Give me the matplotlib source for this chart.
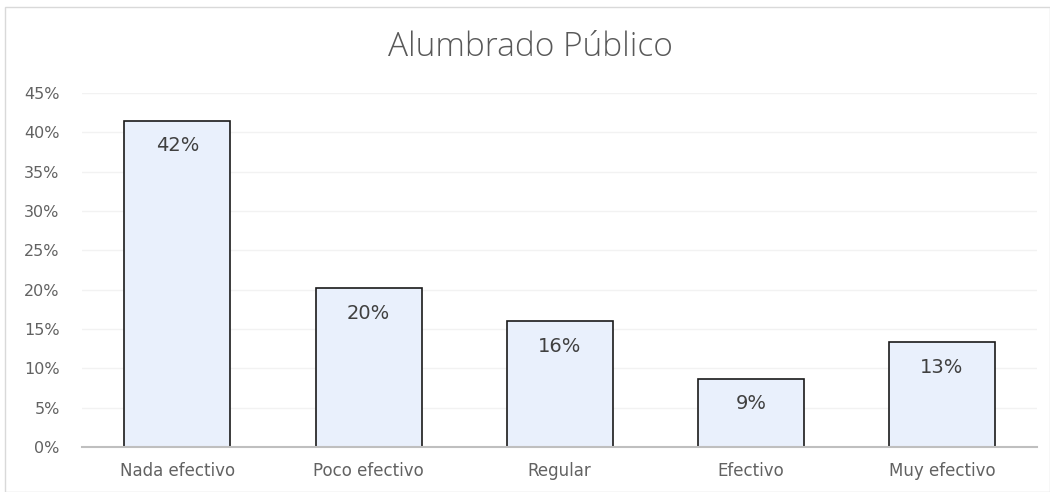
import matplotlib
matplotlib.use("Agg")
import matplotlib.pyplot as plt
from matplotlib.patches import Rectangle
from matplotlib.ticker import FuncFormatter

categories = ["Nada efectivo", "Poco efectivo", "Regular", "Efectivo", "Muy efectivo"]
values = [0.415, 0.202, 0.160, 0.087, 0.133]
labels = ["42%", "20%", "16%", "9%", "13%"]
yticks = [0, 0.05, 0.10, 0.15, 0.20, 0.25, 0.30, 0.35, 0.40, 0.45]
title = "Alumbrado Público"

plt.rcParams['font.family'] = ['DejaVu Sans']

fig = plt.figure(figsize=(10.5, 4.92), dpi=100)
ax = fig.add_axes([0.078, 0.0915, 0.91, 0.7195])

x = range(len(categories))
ax.bar(x, values, width=0.555, color="#E9F0FC", edgecolor="#1a1a1a", linewidth=1.2, zorder=3)
for xi, v, lab in zip(x, values, labels):
    ax.annotate(lab, (xi, v), xytext=(0, -18), textcoords="offset points",
                ha="center", va="center", fontsize=14, color="#404040", zorder=4)

ax.set_xlim(-0.5, len(categories) - 0.5)
ax.set_ylim(0, 0.45)
ax.set_yticks(yticks)
ax.yaxis.set_major_formatter(FuncFormatter(lambda v, p: f"{v*100:.0f}%"))
ax.set_xticks(list(x))
ax.set_xticklabels(categories)
ax.tick_params(axis="y", length=0, pad=16, labelsize=11.5, labelcolor="#626262")
ax.tick_params(axis="x", length=0, pad=11, labelsize=12, labelcolor="#626262")
ax.grid(axis="y", color="#F2F2F2", linewidth=1, zorder=0)
for s in ["top", "right", "left"]:
    ax.spines[s].set_visible(False)
ax.spines["bottom"].set_color("#BFBFBF")
ax.spines["bottom"].set_linewidth(1.5)
ax.spines["bottom"].set_zorder(5)

fig.text(530/1050, 1 - 47/492, title, ha="center", va="center", fontsize=24, color="#595959",
         fontweight="light", family=["Open Sans", "DejaVu Sans"])

fig.patches.append(Rectangle((5/1050, 0), 1 - 5/1050, 1 - 7/492, transform=fig.transFigure,
                             fill=False, edgecolor="#D9D9D9", linewidth=1))

fig.savefig("out.png", dpi=100)
